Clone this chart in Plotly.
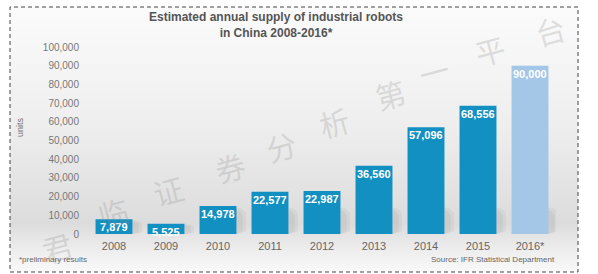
import base64
import plotly.graph_objects as go

years = ["2008", "2009", "2010", "2011", "2012", "2013", "2014", "2015", "2016*"]
units = [7879, 5525, 14978, 22577, 22987, 36560, 57096, 68556, 90000]
preliminary = [False, False, False, False, False, False, False, False, True]
y_ticks = list(range(0, 100001, 10000))
watermark = ["君", "临", "证", "券", "分", "析", "第", "一", "平", "台"]

W, H = 598, 274
L, R, T, B = 88, 42, 47, 40
pw, ph = W - L - R, H - T - B
BAR_W = 0.71

def px2paper(x, y):
    return (x - L) / pw, (H - B - y) / ph

idx = list(range(len(years)))
bar_colors = ["#a4c7e8" if p else "#1390c2" for p in preliminary]

fig = go.Figure()

# soft cast shadows to the right of each bar (derived from bar values)
for i, v in zip(idx, units):
    xr = i + BAR_W / 2
    h = min(v, 15000)
    for k, (wd, op) in enumerate([(0.18, 0.07), (0.12, 0.08)]):
        fig.add_trace(go.Scatter(
            x=[xr, xr, xr + wd * 0.6, xr + wd, xr + wd, xr],
            y=[0, h * (0.95 - 0.1 * k), h * (0.9 - 0.1 * k), h * (0.75 - 0.1 * k), h * 0.1, 0],
            mode="lines", fill="toself", line=dict(width=0),
            fillcolor=f"rgba(100,100,100,{op})", hoverinfo="skip"))

fig.add_trace(go.Bar(x=idx, y=units, marker=dict(color=bar_colors, line=dict(width=0)),
                     width=BAR_W, customdata=years,
                     hovertemplate="%{customdata}: %{y:,}<extra></extra>"))

# value labels inside top of bars
for i, v in zip(idx, units):
    fig.add_annotation(x=i, y=v, text=f"<b>{v:,}</b>", showarrow=False, yanchor="top",
                       yshift=0, font=dict(family="Liberation Sans, Arial", size=11, color="white"))

# background gradient panel
bx0, by0, bx1, by1 = 10, 7, 578, 272
svg = ("<svg xmlns='http://www.w3.org/2000/svg' width='568' height='265' preserveAspectRatio='none'>"
       "<defs><linearGradient id='g' x1='0' y1='0' x2='0' y2='1'>"
       "<stop offset='0' stop-color='#fbfbfb'/><stop offset='0.45' stop-color='#eeeeee'/>"
       "<stop offset='0.82' stop-color='#dcdcdc'/><stop offset='0.87' stop-color='#e6e6e6'/>"
       "<stop offset='1' stop-color='#f9f9f9'/></linearGradient></defs>"
       "<rect width='568' height='265' fill='url(#g)'/></svg>")
src = "data:image/svg+xml;base64," + base64.b64encode(svg.encode()).decode()
ix, iy = px2paper(bx0, by0)
fig.add_layout_image(source=src, xref="paper", yref="paper", x=ix, y=iy,
                     sizex=(bx1 - bx0) / pw, sizey=(by1 - by0) / ph,
                     xanchor="left", yanchor="top", sizing="stretch", layer="below")
sx0, sy0 = px2paper(bx0, by1)
sx1, sy1 = px2paper(bx1, by0)
fig.add_shape(type="rect", xref="paper", yref="paper", x0=sx0, y0=sy0, x1=sx1, y1=sy1,
              line=dict(color="#444", width=1, dash="4px,3px"), layer="above")

# watermark
wm_pos = [(57, 247), (113, 212), (168, 190), (230, 167), (281, 146), (334, 122),
          (390, 94), (434, 71), (490, 50), (550, 30)]
for ch, (x, y) in zip(watermark, wm_pos):
    px_, py_ = px2paper(x, y)
    fig.add_annotation(xref="paper", yref="paper", x=px_, y=py_, text=ch, showarrow=False,
                       textangle=-15, xanchor="center", yanchor="middle",
                       font=dict(family="Noto Sans CJK SC", size=30,
                                 color="rgba(140,140,140,0.25)"))

# other texts
ux, uy = px2paper(20, 127)
fig.add_annotation(xref="paper", yref="paper", x=ux, y=uy, text="units", textangle=-90,
                   xanchor="center", yanchor="middle", showarrow=False,
                   font=dict(family="Liberation Sans, Arial", size=9, color="#777"))
nx, ny = px2paper(17, 259)
fig.add_annotation(xref="paper", yref="paper", x=nx, y=ny, text="*preliminary results",
                   xanchor="left", yanchor="middle", showarrow=False,
                   font=dict(family="Liberation Sans, Arial", size=8, color="#666"))
sx, sy = px2paper(557, 259)
fig.add_annotation(xref="paper", yref="paper", x=sx, y=sy, text="Source: IFR Statistical Department",
                   xanchor="right", yanchor="middle", showarrow=False,
                   font=dict(family="Liberation Sans, Arial", size=8, color="#666"))

fig.update_layout(
    width=W, height=H, margin=dict(l=L, r=R, t=T, b=B),
    paper_bgcolor="white", plot_bgcolor="rgba(0,0,0,0)",
    showlegend=False,
    title=dict(text="<b>Estimated annual supply of industrial robots<br>in China 2008-2016*</b>",
               x=276 / W, xanchor="center", y=1 - 21 / H, yanchor="top", xref="container",
               yref="container",
               font=dict(family="Liberation Sans, Arial", size=12, color="#555")),
    xaxis=dict(range=[-0.5, len(years) - 0.5], tickvals=idx, ticktext=years,
               showgrid=False, zeroline=False, showline=False, ticks="",
               ticklabelstandoff=4,
               tickfont=dict(family="Liberation Sans, Arial", size=11, color="#666")),
    yaxis=dict(range=[0, 100000], tickvals=y_ticks, tickformat=",", showgrid=False,
               zeroline=False, showline=False, ticks="", ticklabelstandoff=8,
               tickfont=dict(family="Liberation Sans, Arial", size=10, color="#777")),
)

fig.write_html("out.html")
